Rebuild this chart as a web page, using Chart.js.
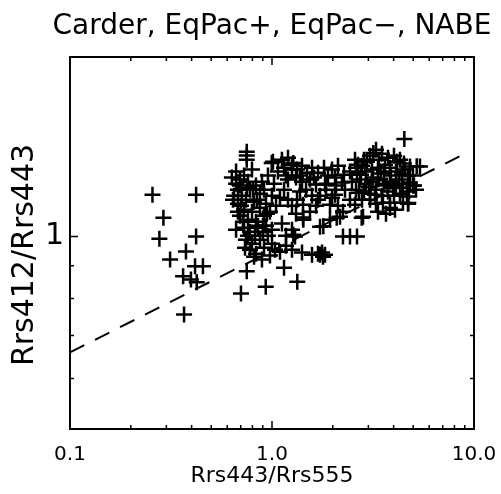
<!DOCTYPE html>
<html>
<head>
<meta charset="utf-8">
<script src="https://cdn.jsdelivr.net/npm/chart.js@4.4.1/dist/chart.umd.min.js"></script>
<style>
  body { margin: 0; background: #fff; }
</style>
</head>
<body>
<canvas id="ratio-chart" width="501" height="494"></canvas>
<script>
const chartTitle = 'Carder, EqPac+, EqPac\u2212, NABE';
const yTitle = 'Rrs412/Rrs443';
const xLabelTicks = [0.1, 1, 10];
const xTickLabels = ['0.1', '1.0', '10.0'];
const xMinorTicks = [0.2, 0.3, 0.4, 0.5, 0.6, 0.7, 0.8, 0.9, 2, 3, 4, 5, 6, 7, 8, 9];
const yLabelTicks = [1];
const yTickLabels = ['1'];
const yMinorTicks = [0.6, 0.7, 0.8, 0.9];

// Rrs443/Rrs555 (x) and Rrs412/Rrs443 (y), one point per station
const ratio443to555 = [
  0.256, 0.421, 0.290, 0.277, 0.421, 0.375, 0.313, 0.416, 0.455, 0.363,
  0.424, 0.397, 0.367, 0.750, 0.702, 0.931, 1.147, 1.334, 4.520, 0.750,
  0.750, 0.750, 1.728, 1.429, 1.275, 0.997, 1.275, 3.173, 5.204, 5.006,
  4.729, 3.838, 2.780, 2.091, 1.795,
  0.633, 0.664, 0.694, 0.727, 0.760, 0.678, 0.649, 0.710, 0.778, 0.833,
  0.892, 0.872, 0.743, 0.815, 0.678, 0.727, 0.796, 0.872, 0.934, 0.694,
  0.760, 0.833, 0.913, 0.977, 0.727, 0.778, 0.852, 0.934, 0.743, 0.796,
  0.872, 0.955, 0.778, 0.833, 0.913, 1.000, 0.815, 0.892, 0.977, 1.095,
  0.852, 0.664, 0.796, 0.694, 0.913, 0.999, 1.047, 1.095, 1.147, 1.023,
  0.955, 1.070, 1.173, 1.256,
  1.011, 1.120, 1.200, 1.256, 1.330, 1.408, 1.491, 1.578, 1.690, 1.809,
  1.982, 2.122, 1.200, 1.315, 1.408, 1.542, 1.652, 1.851, 2.051, 2.272,
  2.433, 2.606, 2.790,
  1.200, 1.256, 1.330, 1.424, 1.315, 1.424, 1.256, 1.300, 0.999, 1.035,
  1.173, 1.256, 1.408, 1.578, 1.690, 1.769, 1.830, 1.120, 1.173, 1.542,
  1.652, 1.729, 1.851, 1.982, 2.122, 1.937, 1.830, 2.051, 2.298, 2.433,
  2.576, 2.246, 2.171, 1.937, 1.729, 2.246, 2.433, 2.635, 1.789,
  2.666, 2.853, 3.056, 3.272, 3.503, 3.752, 4.017, 4.301, 4.501, 4.820,
  5.402, 2.919, 3.126, 3.347, 3.584, 3.838, 4.110, 4.400, 4.712, 2.727,
  2.919, 3.126, 3.347, 3.584, 3.838, 4.110, 4.400, 4.820, 2.853, 3.056,
  3.272, 3.503, 3.752, 4.017, 4.301, 4.658, 2.790, 3.056, 3.272, 3.543,
  3.838, 4.451, 4.063, 3.347, 3.667, 2.822, 2.606, 2.489, 5.044, 4.712,
  5.161,
  2.576, 2.758, 2.952, 3.162, 3.385, 3.625, 3.882, 4.157, 4.451, 4.765,
  3.235, 3.708, 4.252, 2.696, 3.463, 3.972, 4.553, 3.021, 2.635, 4.987,
  0.641, 0.678, 0.718, 0.760, 0.805, 0.843, 0.902, 0.944, 0.664, 0.735,
  0.824, 0.902, 0.752, 0.702,
  1.147, 1.376, 1.614, 1.893, 2.221, 1.474, 1.690, 1.376, 2.075, 1.578
];
const ratio412to443 = [
  1.163, 1.163, 1.070, 0.992, 1.000, 0.948, 0.921, 0.899, 0.899, 0.867,
  0.848, 0.857, 0.755, 0.883, 0.815, 0.835, 0.894, 0.850, 1.421, 1.358,
  1.339, 1.319, 0.937, 1.063, 1.007, 1.304, 1.304, 1.351, 1.288, 1.201,
  1.129, 1.109, 1.070, 1.070, 1.038,
  1.237, 1.210, 1.228, 1.246, 1.219, 1.184, 1.159, 1.159, 1.184, 1.202,
  1.219, 1.167, 1.142, 1.134, 1.126, 1.102, 1.094, 1.110, 1.126, 1.078,
  1.063, 1.055, 1.078, 1.094, 1.032, 1.018, 1.032, 1.040, 0.989, 0.975,
  0.989, 1.003, 0.954, 0.940, 0.961, 0.975, 0.930, 0.921, 0.934, 0.947,
  1.040, 1.264, 1.273, 1.202, 1.184, 1.159, 1.118, 1.150, 1.184, 1.210,
  1.246, 1.264, 1.246, 1.273,
  1.310, 1.319, 1.328, 1.296, 1.273, 1.291, 1.259, 1.282, 1.259, 1.282,
  1.273, 1.291, 1.228, 1.237, 1.219, 1.228, 1.206, 1.210, 1.237, 1.250,
  1.264, 1.282, 1.291,
  1.142, 1.118, 1.142, 1.122, 1.086, 1.071, 1.025, 1.000, 1.025, 0.954,
  0.968, 0.954, 0.944, 0.937, 0.940, 0.944, 0.937, 1.048, 1.003, 1.094,
  1.118, 1.159, 1.184, 1.150, 1.118, 1.122, 1.206, 1.163, 1.184, 1.142,
  1.122, 1.094, 1.074, 1.063, 1.036, 1.000, 1.000, 1.000, 0.930,
  1.296, 1.319, 1.338, 1.367, 1.348, 1.328, 1.338, 1.319, 1.301, 1.287,
  1.287, 1.264, 1.273, 1.282, 1.264, 1.282, 1.264, 1.255, 1.246, 1.228,
  1.210, 1.219, 1.228, 1.210, 1.219, 1.202, 1.210, 1.215, 1.176, 1.167,
  1.184, 1.159, 1.176, 1.159, 1.167, 1.155, 1.142, 1.142, 1.126, 1.130,
  1.130, 1.130, 1.102, 1.094, 1.086, 1.074, 1.184, 1.219, 1.202, 1.126,
  1.184,
  1.319, 1.250, 1.310, 1.237, 1.319, 1.296, 1.246, 1.310, 1.193, 1.176,
  1.163, 1.202, 1.228, 1.171, 1.255, 1.193, 1.273, 1.197, 1.259, 1.246,
  1.142, 1.094, 1.055, 1.003, 1.184, 1.142, 1.040, 1.086, 1.025, 0.961,
  1.003, 1.018, 1.193, 1.118,
  1.282, 1.246, 1.237, 1.246, 1.215, 1.184, 1.142, 1.176, 1.202, 1.159
];

// dashed reference line, end points
const fitX = [0.1, 8.8];
const fitY = [0.659, 1.343];

const font = 'DejaVu Sans';

// IDL-style box with inward tick marks, plus the title and y title
const boxTicks = {
  id: 'boxTicks',
  afterDraw(chart) {
    const { ctx, chartArea: a, scales: { x, y } } = chart;
    ctx.save();
    ctx.strokeStyle = '#000';
    ctx.lineWidth = 2;
    ctx.strokeRect(a.left, a.top, a.right - a.left, a.bottom - a.top);
    ctx.lineWidth = 1.5;
    ctx.beginPath();
    const xTick = (v, len) => {
      const px = x.getPixelForValue(v);
      ctx.moveTo(px, a.bottom); ctx.lineTo(px, a.bottom - len);
      ctx.moveTo(px, a.top); ctx.lineTo(px, a.top + len);
    };
    const yTick = (v, len) => {
      const py = y.getPixelForValue(v);
      ctx.moveTo(a.left, py); ctx.lineTo(a.left + len, py);
      ctx.moveTo(a.right, py); ctx.lineTo(a.right - len, py);
    };
    xLabelTicks.forEach(v => xTick(v, 8));
    xMinorTicks.forEach(v => xTick(v, 4));
    yLabelTicks.forEach(v => yTick(v, 8));
    yMinorTicks.forEach(v => yTick(v, 4));
    ctx.stroke();

    ctx.fillStyle = '#000';
    ctx.font = '28px "' + font + '"';
    ctx.textAlign = 'center';
    ctx.textBaseline = 'alphabetic';
    ctx.fillText(chartTitle, (a.left + a.right) / 2, a.top - 23);

    ctx.font = '30px "' + font + '"';
    ctx.textBaseline = 'middle';
    ctx.translate(25, (a.top + a.bottom) / 2 + 12);
    ctx.rotate(-Math.PI / 2);
    ctx.fillText(yTitle, 0, 0);
    ctx.restore();
  }
};

new Chart(document.getElementById('ratio-chart'), {
  type: 'scatter',
  data: {
    datasets: [{
      data: ratio443to555.map((v, i) => ({ x: v, y: ratio412to443[i] })),
      pointStyle: 'cross',
      pointRadius: 8,
      pointBorderWidth: 2.5,
      borderColor: '#000',
      backgroundColor: '#000'
    }, {
      data: fitX.map((v, i) => ({ x: v, y: fitY[i] })),
      showLine: true,
      borderColor: '#000',
      borderWidth: 2,
      borderDash: [16, 12],
      pointRadius: 0
    }]
  },
  options: {
    responsive: false,
    animation: false,
    layout: { padding: { left: 0, right: 27, top: 57, bottom: 0 } },
    scales: {
      x: {
        type: 'logarithmic',
        min: 0.1,
        max: 10,
        grid: { display: false, drawTicks: false },
        border: { display: false },
        afterBuildTicks: s => { s.ticks = xLabelTicks.map(v => ({ value: v })); },
        afterFit: s => { s.height = 65; s.paddingLeft = 0; s.paddingRight = 0; },
        ticks: {
          autoSkip: false,
          maxRotation: 0,
          padding: 14,
          color: '#000',
          font: { family: font, size: 20 },
          callback: (v, i) => xTickLabels[i]
        },
        title: {
          display: true,
          text: 'Rrs443/Rrs555',
          color: '#000',
          font: { family: font, size: 22 },
          padding: { top: 0, bottom: 5 }
        }
      },
      y: {
        type: 'logarithmic',
        min: 0.5,
        max: 1.91,
        grid: { display: false, drawTicks: false },
        border: { display: false },
        afterBuildTicks: s => { s.ticks = yLabelTicks.map(v => ({ value: v })); },
        afterFit: s => { s.width = 70; s.paddingTop = 0; s.paddingBottom = 0; },
        ticks: {
          autoSkip: false,
          padding: 6,
          color: '#000',
          font: { family: font, size: 30 },
          callback: (v, i) => yTickLabels[i]
        },
        title: { display: false }
      }
    },
    plugins: {
      legend: { display: false },
      tooltip: { enabled: false },
      title: { display: false }
    }
  },
  plugins: [boxTicks]
});
</script>
</body>
</html>
